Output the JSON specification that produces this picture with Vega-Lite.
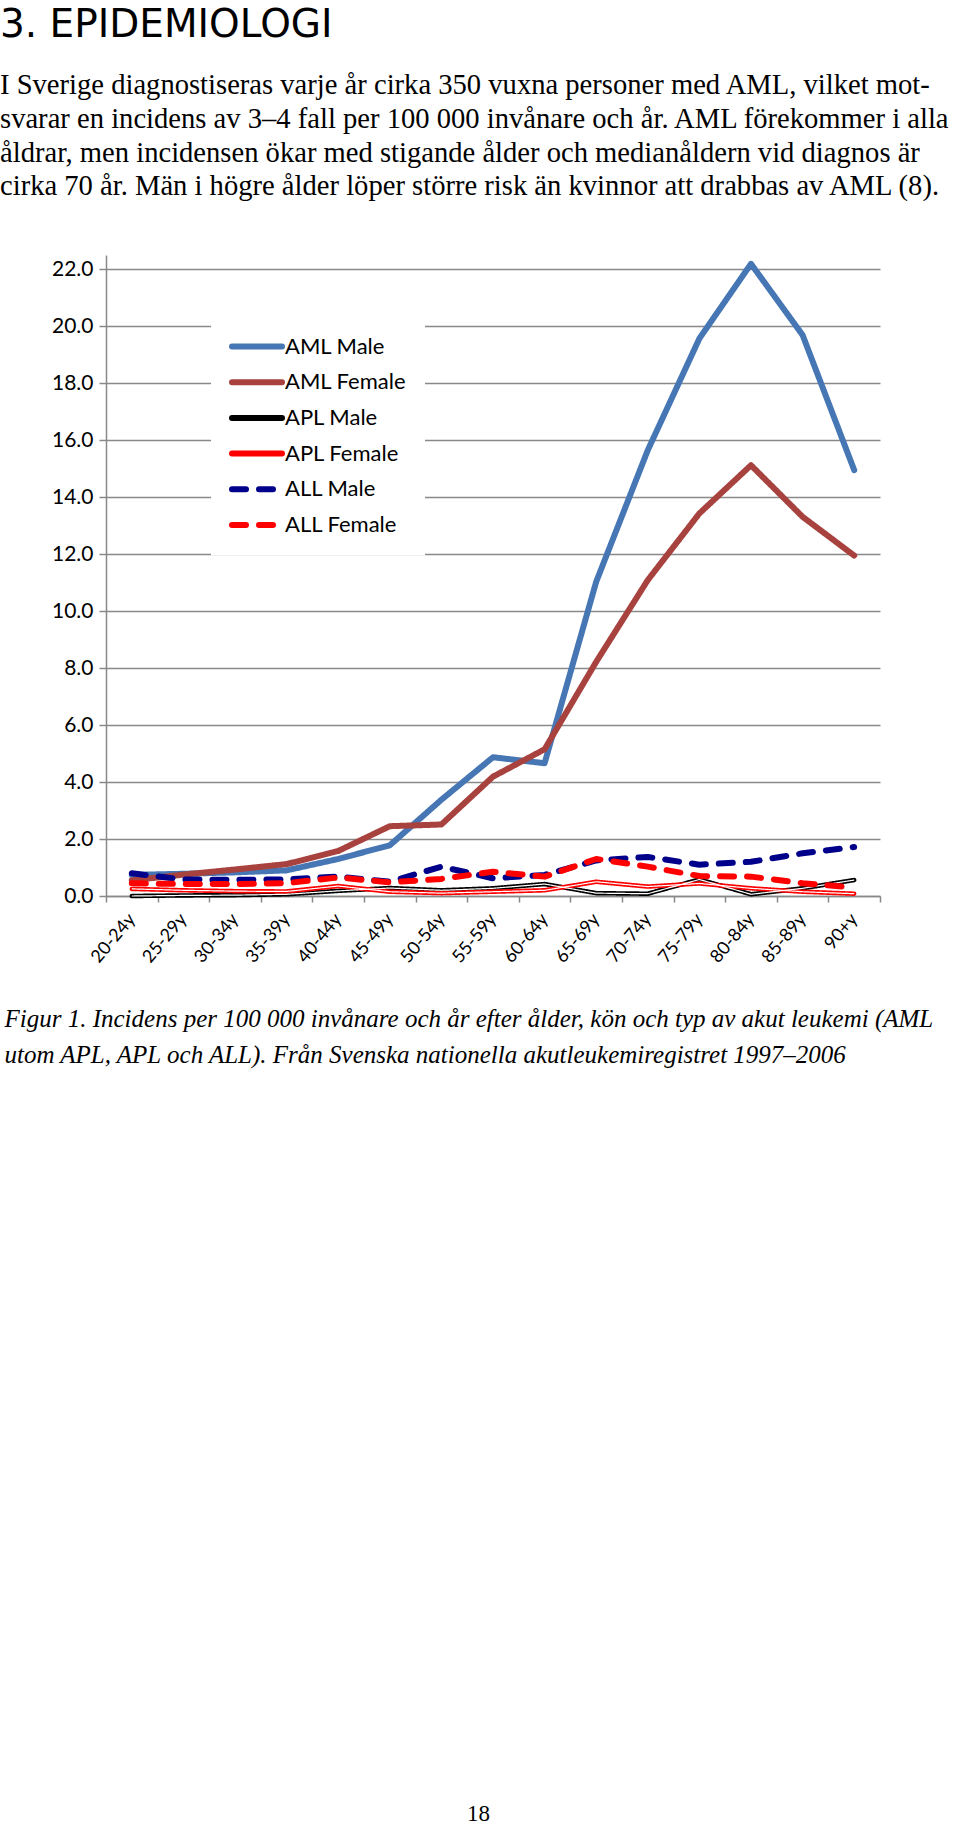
{
  "$schema": "https://vega.github.io/schema/vega-lite/v6.json",
  "width": 774,
  "height": 641,
  "autosize": {"type": "none"},
  "padding": {"left": 106, "top": 255, "right": 80, "bottom": 933},
  "background": "white",
  "config": {"view": {"stroke": null}},
  "title": {
    "text": "3. EPIDEMIOLOGI",
    "subtitle": [
      "I Sverige diagnostiseras varje år cirka 350 vuxna personer med AML, vilket mot-",
      "svarar en incidens av 3–4 fall per 100 000 invånare och år. AML förekommer i alla",
      "åldrar, men incidensen ökar med stigande ålder och medianåldern vid diagnos är",
      "cirka 70 år. Män i högre ålder löper större risk än kvinnor att drabbas av AML (8)."
    ],
    "anchor": "start",
    "frame": "group",
    "dx": -106,
    "font": "DejaVu Sans",
    "fontSize": 39,
    "fontWeight": "normal",
    "color": "black",
    "subtitleFont": "Liberation Serif",
    "subtitleFontSize": 28.6,
    "subtitleColor": "black",
    "subtitleLineHeight": 33.8,
    "subtitlePadding": 26,
    "offset": 54
  },
  "data": {
    "values": [
      {"age": "20-24y", "series": "AML Male", "value": 0.74},
      {"age": "25-29y", "series": "AML Male", "value": 0.78},
      {"age": "30-34y", "series": "AML Male", "value": 0.83},
      {"age": "35-39y", "series": "AML Male", "value": 0.9},
      {"age": "40-44y", "series": "AML Male", "value": 1.3},
      {"age": "45-49y", "series": "AML Male", "value": 1.78},
      {"age": "50-54y", "series": "AML Male", "value": 3.38},
      {"age": "55-59y", "series": "AML Male", "value": 4.87},
      {"age": "60-64y", "series": "AML Male", "value": 4.66},
      {"age": "65-69y", "series": "AML Male", "value": 11.03},
      {"age": "70-74y", "series": "AML Male", "value": 15.65},
      {"age": "75-79y", "series": "AML Male", "value": 19.57},
      {"age": "80-84y", "series": "AML Male", "value": 22.19},
      {"age": "85-89y", "series": "AML Male", "value": 19.69},
      {"age": "90+y", "series": "AML Male", "value": 14.95},
      {"age": "20-24y", "series": "AML Female", "value": 0.55},
      {"age": "25-29y", "series": "AML Female", "value": 0.75},
      {"age": "30-34y", "series": "AML Female", "value": 0.93},
      {"age": "35-39y", "series": "AML Female", "value": 1.12},
      {"age": "40-44y", "series": "AML Female", "value": 1.58},
      {"age": "45-49y", "series": "AML Female", "value": 2.45},
      {"age": "50-54y", "series": "AML Female", "value": 2.51},
      {"age": "55-59y", "series": "AML Female", "value": 4.19},
      {"age": "60-64y", "series": "AML Female", "value": 5.15},
      {"age": "65-69y", "series": "AML Female", "value": 8.22},
      {"age": "70-74y", "series": "AML Female", "value": 11.09},
      {"age": "75-79y", "series": "AML Female", "value": 13.43},
      {"age": "80-84y", "series": "AML Female", "value": 15.12},
      {"age": "85-89y", "series": "AML Female", "value": 13.31},
      {"age": "90+y", "series": "AML Female", "value": 11.95},
      {"age": "20-24y", "series": "APL Male", "value": 0.0},
      {"age": "25-29y", "series": "APL Male", "value": 0.02},
      {"age": "30-34y", "series": "APL Male", "value": 0.03},
      {"age": "35-39y", "series": "APL Male", "value": 0.06},
      {"age": "40-44y", "series": "APL Male", "value": 0.18},
      {"age": "45-49y", "series": "APL Male", "value": 0.28},
      {"age": "50-54y", "series": "APL Male", "value": 0.2},
      {"age": "55-59y", "series": "APL Male", "value": 0.27},
      {"age": "60-64y", "series": "APL Male", "value": 0.42},
      {"age": "65-69y", "series": "APL Male", "value": 0.1},
      {"age": "70-74y", "series": "APL Male", "value": 0.08},
      {"age": "75-79y", "series": "APL Male", "value": 0.58},
      {"age": "80-84y", "series": "APL Male", "value": 0.06},
      {"age": "85-89y", "series": "APL Male", "value": 0.27},
      {"age": "90+y", "series": "APL Male", "value": 0.56},
      {"age": "20-24y", "series": "APL Female", "value": 0.25},
      {"age": "25-29y", "series": "APL Female", "value": 0.2},
      {"age": "30-34y", "series": "APL Female", "value": 0.17},
      {"age": "35-39y", "series": "APL Female", "value": 0.16},
      {"age": "40-44y", "series": "APL Female", "value": 0.35},
      {"age": "45-49y", "series": "APL Female", "value": 0.15},
      {"age": "50-54y", "series": "APL Female", "value": 0.1},
      {"age": "55-59y", "series": "APL Female", "value": 0.15},
      {"age": "60-64y", "series": "APL Female", "value": 0.2},
      {"age": "65-69y", "series": "APL Female", "value": 0.5},
      {"age": "70-74y", "series": "APL Female", "value": 0.33},
      {"age": "75-79y", "series": "APL Female", "value": 0.44},
      {"age": "80-84y", "series": "APL Female", "value": 0.27},
      {"age": "85-89y", "series": "APL Female", "value": 0.15},
      {"age": "90+y", "series": "APL Female", "value": 0.08},
      {"age": "20-24y", "series": "ALL Male", "value": 0.8},
      {"age": "25-29y", "series": "ALL Male", "value": 0.58},
      {"age": "30-34y", "series": "ALL Male", "value": 0.57},
      {"age": "35-39y", "series": "ALL Male", "value": 0.58},
      {"age": "40-44y", "series": "ALL Male", "value": 0.68},
      {"age": "45-49y", "series": "ALL Male", "value": 0.5},
      {"age": "50-54y", "series": "ALL Male", "value": 1.03},
      {"age": "55-59y", "series": "ALL Male", "value": 0.62},
      {"age": "60-64y", "series": "ALL Male", "value": 0.74},
      {"age": "65-69y", "series": "ALL Male", "value": 1.25},
      {"age": "70-74y", "series": "ALL Male", "value": 1.37},
      {"age": "75-79y", "series": "ALL Male", "value": 1.1},
      {"age": "80-84y", "series": "ALL Male", "value": 1.2},
      {"age": "85-89y", "series": "ALL Male", "value": 1.5},
      {"age": "90+y", "series": "ALL Male", "value": 1.72},
      {"age": "20-24y", "series": "ALL Female", "value": 0.45},
      {"age": "25-29y", "series": "ALL Female", "value": 0.42},
      {"age": "30-34y", "series": "ALL Female", "value": 0.42},
      {"age": "35-39y", "series": "ALL Female", "value": 0.45},
      {"age": "40-44y", "series": "ALL Female", "value": 0.65},
      {"age": "45-49y", "series": "ALL Female", "value": 0.48},
      {"age": "50-54y", "series": "ALL Female", "value": 0.6},
      {"age": "55-59y", "series": "ALL Female", "value": 0.85},
      {"age": "60-64y", "series": "ALL Female", "value": 0.68},
      {"age": "65-69y", "series": "ALL Female", "value": 1.3},
      {"age": "70-74y", "series": "ALL Female", "value": 1.03},
      {"age": "75-79y", "series": "ALL Female", "value": 0.7},
      {"age": "80-84y", "series": "ALL Female", "value": 0.68},
      {"age": "85-89y", "series": "ALL Female", "value": 0.45},
      {"age": "90+y", "series": "ALL Female", "value": 0.3}
    ]
  },
  "encoding": {
    "x": {
      "field": "age",
      "type": "nominal",
      "sort": ["20-24y","25-29y","30-34y","35-39y","40-44y","45-49y","50-54y","55-59y","60-64y","65-69y","70-74y","75-79y","80-84y","85-89y","90+y"],
      "scale": {"type": "band", "paddingInner": 0, "paddingOuter": 0},
      "axis": {
        "title": [
          "Figur 1. Incidens per 100 000 invånare och år efter ålder, kön och typ av akut leukemi (AML",
          "utom APL, APL och ALL). Från Svenska nationella akutleukemiregistret 1997–2006"
        ],
        "titleFont": "Liberation Serif",
        "titleFontStyle": "italic",
        "titleFontWeight": "normal",
        "titleFontSize": 25,
        "titleColor": "black",
        "titleAnchor": "start",
        "titleAlign": "left",
        "titleX": -102,
        "titleY": 130,
        "titleBaseline": "alphabetic",
        "titleLineHeight": 36,
        "labelAngle": -50,
        "labelAlign": "right",
        "labelBaseline": "middle",
        "labelFont": "Lato",
        "labelFontSize": 18,
        "labelColor": "black",
        "labelPadding": 14,
        "tickBand": "extent",
        "tickSize": 6,
        "tickColor": "#898989",
        "tickWidth": 1.5,
        "domainColor": "#898989",
        "domainWidth": 1.5,
        "grid": false
      }
    },
    "y": {
      "field": "value",
      "type": "quantitative",
      "scale": {"domain": [0, 22.5], "nice": false, "zero": true},
      "axis": {
        "values": [0, 2, 4, 6, 8, 10, 12, 14, 16, 18, 20, 22],
        "format": ".1f",
        "title": "18",
        "titleAngle": 0,
        "titleX": 372,
        "titleY": 1565,
        "titleAlign": "center",
        "titleBaseline": "alphabetic",
        "titleFont": "Liberation Serif",
        "titleFontSize": 23,
        "titleFontWeight": "normal",
        "titleColor": "black",
        "labelFont": "Lato",
        "labelFontSize": 21,
        "labelColor": "black",
        "labelPadding": 6,
        "tickSize": 7,
        "tickColor": "#898989",
        "tickWidth": 1.5,
        "domainColor": "#898989",
        "domainWidth": 1.5,
        "grid": true,
        "gridColor": "#898989",
        "gridWidth": 1.5
      }
    },
    "color": {
      "field": "series",
      "type": "nominal",
      "scale": {
        "domain": ["AML Male", "AML Female", "APL Male", "APL Female", "ALL Male", "ALL Female"],
        "range": ["#4677B4", "#A8423F", "#000000", "#FF0000", "#00008B", "#FF0000"]
      },
      "legend": {
        "title": null,
        "orient": "none",
        "legendX": 105,
        "legendY": 60.5,
        "direction": "vertical",
        "symbolType": "M -1 0 H 4",
        "symbolSize": 400,
        "symbolStrokeWidth": 6,
        "labelFont": "Lato",
        "labelFontSize": 22,
        "labelColor": "black",
        "labelOffset": 30,
        "labelLimit": 300,
        "rowPadding": 10.7,
        "padding": 18,
        "fillColor": "white",
        "encode": {"symbols": {"update": {"strokeCap": {"value": "round"}}}}
      }
    },
    "strokeDash": {
      "field": "series",
      "type": "nominal",
      "scale": {
        "domain": ["AML Male", "AML Female", "APL Male", "APL Female", "ALL Male", "ALL Female"],
        "range": [[1, 0], [1, 0], [1, 0], [1, 0], [14, 13], [14, 13]]
      }
    }
  },
  "layer": [
    {
      "transform": [{"filter": {"field": "series", "oneOf": ["AML Male", "AML Female"]}}],
      "mark": {"type": "line", "strokeWidth": 6, "strokeCap": "round", "strokeJoin": "round"}
    },
    {
      "transform": [{"filter": {"field": "series", "oneOf": ["APL Male", "APL Female"]}}],
      "mark": {"type": "line", "strokeWidth": 4.5, "strokeCap": "round", "strokeJoin": "round"}
    },
    {
      "transform": [{"filter": {"field": "series", "oneOf": ["APL Male", "APL Female"]}}],
      "mark": {"type": "line", "strokeWidth": 1.2, "strokeJoin": "round"},
      "encoding": {"color": {"value": "white"}, "detail": {"field": "series", "type": "nominal"}}
    },
    {
      "transform": [{"filter": {"field": "series", "oneOf": ["ALL Male", "ALL Female"]}}],
      "mark": {"type": "line", "strokeWidth": 6, "strokeCap": "round", "strokeJoin": "round"}
    }
  ]
}
